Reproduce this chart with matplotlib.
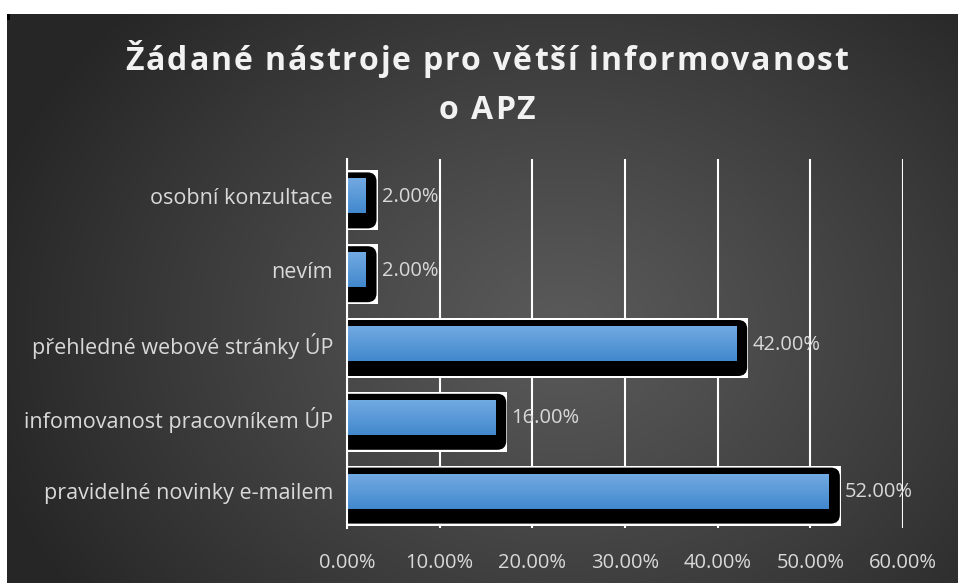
import matplotlib
matplotlib.use("Agg")
import matplotlib.pyplot as plt
import numpy as np
from matplotlib.patches import FancyBboxPatch, Rectangle
from matplotlib.transforms import IdentityTransform
from matplotlib.font_manager import FontProperties, findfont, get_font

# data (bottom -> top)
categories = ["pravidelné novinky e-mailem",
              "infomovanost pracovníkem ÚP",
              "přehledné webové stránky ÚP",
              "nevím",
              "osobní konzultace"]
values = [0.52, 0.16, 0.42, 0.02, 0.02]
xticks = [0.0, 0.1, 0.2, 0.3, 0.4, 0.5, 0.6]
title_lines = ["Žádané nástroje pro větší informovanost", "o APZ"]

W, H = 958, 583
DPI = 100
LABEL_FONT = "Open Sans"
LABEL_SIZE = 14.5
fig = plt.figure(figsize=(W / DPI, H / DPI), dpi=DPI)
fig.patch.set_facecolor("white")

# dark radial background (leaves a thin white strip top/left)
bx0, by0 = 7, 14
bw, bh = W - bx0, H - by0
bg = fig.add_axes([bx0 / W, 0, bw / W, bh / H])
yy, xx = np.mgrid[0:bh, 0:bw]
r = np.sqrt(((xx - 555) / 600.0) ** 2 + ((yy - 315) / 470.0) ** 2)
r = np.clip(r, 0, 1)
v = (90 - 52 * r ** 1.1) / 255.0
bg.imshow(np.dstack([v, v, v]), aspect="auto", interpolation="bilinear")
bg.set_axis_off()
fig.add_artist(Rectangle((bx0 / W, 1 - (by0 + 6) / H), 3 / W, 6 / H,
                         transform=fig.transFigure, color="black", lw=0))

# main axes
ax = fig.add_axes([347 / W, 55 / H, 556 / W, 369 / H])
ax.set_facecolor("none")
y = np.arange(len(categories))
bar_h = 35 / 73.8

bars = ax.barh(y, values, height=bar_h, color="none", zorder=5)
ax.set_xlim(0, 0.6)
ax.set_ylim(-0.5, len(categories) - 0.5)

# blue vertical gradient inside each bar
top_c = np.array([114, 170, 226]) / 255.0
bot_c = np.array([66, 136, 205]) / 255.0
t = np.linspace(0, 1, 64)[:, None]
grad = (top_c * (1 - t) + bot_c * t)[:, None, :]
for b, val, yc in zip(bars, values, y):
    im = ax.imshow(grad, extent=[0, val, yc - bar_h / 2, yc + bar_h / 2],
                   aspect="auto", zorder=5, interpolation="bilinear")
    im.set_clip_path(b)
ax.set_xlim(0, 0.6)
ax.set_ylim(-0.5, len(categories) - 0.5)

# black rounded "outline" + white box behind each bar (pixel space)
for val, yc in zip(values, y):
    x0, ycp = ax.transData.transform((0, yc))
    x1, _ = ax.transData.transform((val, yc))
    hh = 17.5
    white = Rectangle((x0, ycp - hh - 17), (x1 + 12) - x0, 2 * hh + 25,
                      transform=IdentityTransform(), facecolor="white",
                      edgecolor="none", zorder=3)
    ax.add_patch(white)
    blk = FancyBboxPatch((x0 - 30, ycp - hh - 15), (x1 + 11) - (x0 - 30), 2 * hh + 21,
                         boxstyle="round,pad=0,rounding_size=9",
                         transform=IdentityTransform(), facecolor="black",
                         edgecolor="none", zorder=4)
    ax.add_patch(blk)
    ax.annotate(f"{val * 100:.2f}%", (val, yc), xytext=(16, -1),
                textcoords="offset pixels", va="center", ha="left",
                color="#d9d9d9", fontsize=LABEL_SIZE, family=LABEL_FONT, zorder=6)

# grid / spines / ticks
ax.set_xticks(xticks)
ax.set_xticklabels([f"{v * 100:.2f}%" for v in xticks])
ax.set_yticks(y)
ax.set_yticklabels(categories)
ax.xaxis.grid(True, color="white", lw=1.5, zorder=1)
ax.set_axisbelow(True)
for s in ["top", "right", "bottom"]:
    ax.spines[s].set_visible(False)
ax.spines["left"].set_color("white")
ax.spines["left"].set_linewidth(1.5)
ax.spines["left"].set_zorder(7)
ax.tick_params(axis="both", length=0, colors="#d9d9d9", labelsize=LABEL_SIZE)
ax.tick_params(axis="x", pad=18)
ax.tick_params(axis="y", pad=10, labelsize=15.5)
for lab in ax.get_xticklabels() + ax.get_yticklabels():
    lab.set_family(LABEL_FONT)


# title with letter spacing
def spaced_line(text, cx, base_y, fp, spacing):
    font = get_font(findfont(fp))
    font.set_size(fp.get_size_in_points(), DPI)
    adv = [font.load_char(ord(ch)).linearHoriAdvance / 65536.0 for ch in text]
    total = sum(adv) + spacing * (len(text) - 1)
    x = cx - total / 2
    for ch, a in zip(text, adv):
        fig.text(x / W, 1 - base_y / H, ch, fontproperties=fp, color="#f2f2f2",
                 ha="left", va="baseline")
        x += a + spacing
    return total


tfp = FontProperties(family="Open Sans", weight="bold", size=23)
font = get_font(findfont(tfp))
font.set_size(23, DPI)
raw = sum(font.load_char(ord(c)).linearHoriAdvance / 65536.0 for c in title_lines[0])
sp = (723 - raw) / (len(title_lines[0]) - 1)
spaced_line(title_lines[0], 487, 70, tfp, sp)
spaced_line(title_lines[1], 487, 119, tfp, sp)

fig.savefig("out.png", dpi=DPI)
